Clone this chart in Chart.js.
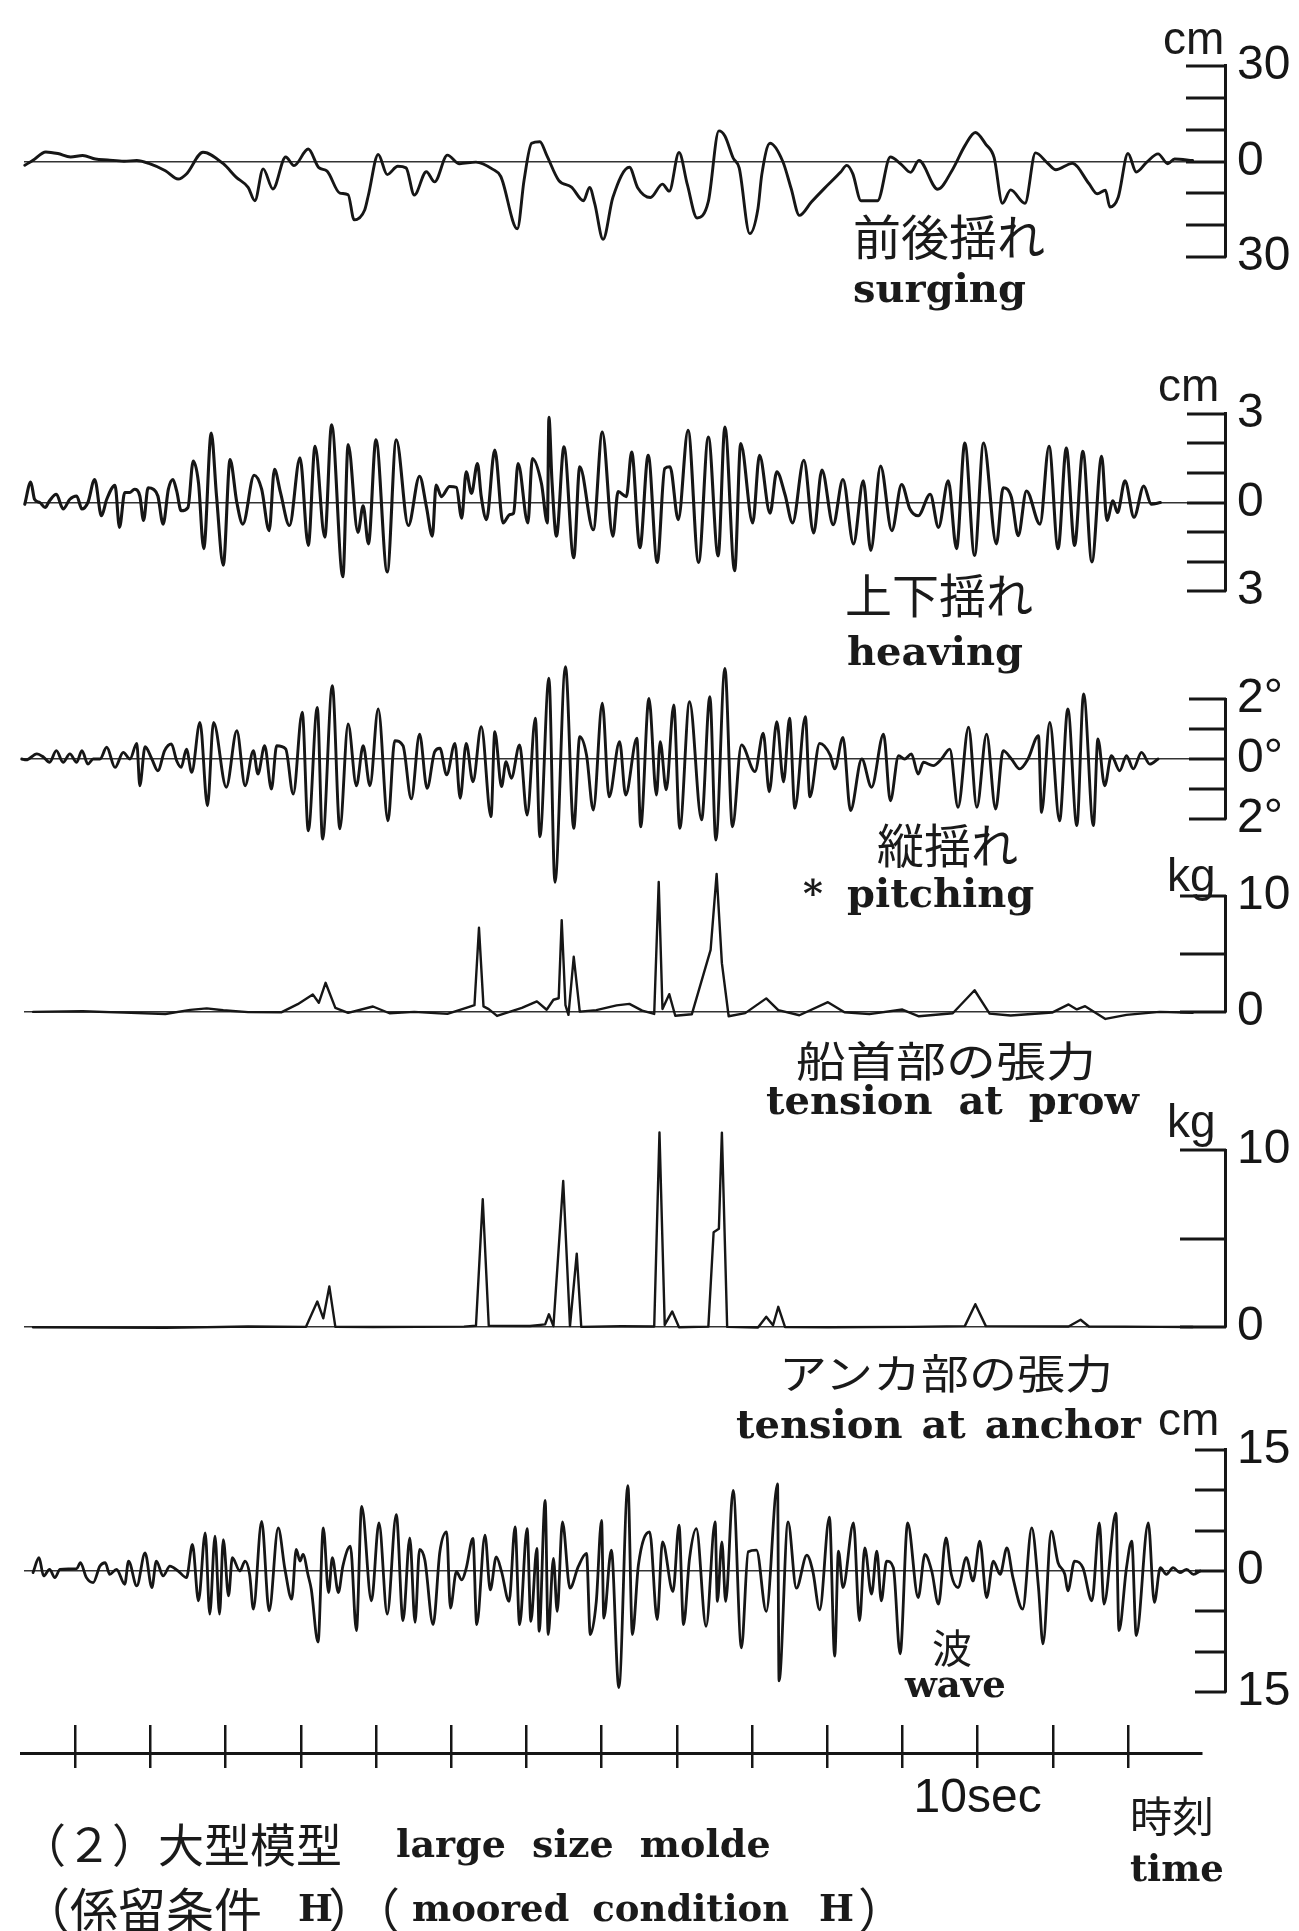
<!DOCTYPE html>
<html>
<head>
<meta charset="utf-8">
<script src="https://cdn.jsdelivr.net/npm/chart.js@4.4.1/dist/chart.umd.min.js"></script>
<style>
body{margin:0;background:#fff;}
#page{position:relative;width:1299px;height:1931px;overflow:hidden;background:#fff;}
#page canvas{position:absolute;left:0;}
.t{position:absolute;white-space:nowrap;line-height:1;color:#1a1a1a;transform-origin:0 0;}
.jp{font-family:'Noto Sans CJK JP','Noto Sans CJK SC',sans-serif;}
.en{font-family:'DejaVu Serif','Liberation Serif',serif;font-weight:bold;}
.u{font-family:'Liberation Sans',Arial,sans-serif;}
</style>
</head>
<body>
<div id="page">
<canvas id="surgeChart"></canvas>
<canvas id="heaveChart"></canvas>
<canvas id="pitchChart"></canvas>
<canvas id="prowChart"></canvas>
<canvas id="anchorChart"></canvas>
<canvas id="waveChart"></canvas>
<canvas id="timeChart"></canvas>

<div class="t u" style="left:1163px;top:15px;font-size:46px">cm</div>
<div class="t jp" style="left:853px;top:210px;font-size:48px">前後揺れ</div>
<div class="t en" style="left:853px;top:268px;font-size:40px">surging</div>

<div class="t u" style="left:1158px;top:362px;font-size:46px">cm</div>
<div class="t jp" style="left:845px;top:569px;font-size:47px">上下揺れ</div>
<div class="t en" style="left:847px;top:631px;font-size:40px">heaving</div>

<div class="t jp" style="left:877px;top:819px;font-size:47px">縦揺れ</div>
<div class="t en" style="left:803px;top:874px;font-size:38px">*</div>
<div class="t en" style="left:847px;top:873px;font-size:40px">pitching</div>

<div class="t u" style="left:1167px;top:852px;font-size:46px">kg</div>
<div class="t jp" style="left:796px;top:1037px;font-size:50px;transform:scaleY(0.85)">船首部の張力</div>
<div class="t en" style="left:766px;top:1080px;font-size:40px;word-spacing:12px">tension at prow</div>

<div class="t u" style="left:1167px;top:1098px;font-size:46px">kg</div>
<div class="t jp" style="left:779px;top:1351px;font-size:48px;transform:scaleY(0.85)">アンカ部の張力</div>
<div class="t en" style="left:736px;top:1404px;font-size:40px;word-spacing:5px">tension at anchor</div>

<div class="t u" style="left:1158px;top:1396px;font-size:46px">cm</div>
<div class="t jp" style="left:932px;top:1626px;font-size:40px">波</div>
<div class="t en" style="left:905px;top:1666px;font-size:37px">wave</div>

<div class="t jp" style="left:1130px;top:1793px;font-size:42px">時刻</div>
<div class="t en" style="left:1130px;top:1850px;font-size:37px">time</div>

<div class="t jp" style="left:20px;top:1819px;font-size:46px">（２）大型模型</div>
<div class="t en" style="left:396px;top:1825px;font-size:38px;word-spacing:13px">large size molde</div>
<div class="t jp" style="left:22px;top:1883px;font-size:48px">（係留条件</div>
<div class="t en" style="left:298px;top:1890px;font-size:37px">H</div>
<div class="t jp" style="left:328px;top:1883px;font-size:48px">）（</div>
<div class="t en" style="left:412px;top:1890px;font-size:37px;word-spacing:10px">moored condition</div>
<div class="t en" style="left:819px;top:1890px;font-size:37px">H</div>
<div class="t jp" style="left:858px;top:1883px;font-size:48px">）</div>
</div>

<script>
// time in seconds, values in cm / degrees / kg
const surging = [[-2.67,-1.2],[-2.56,0.4],[-2.39,3.0],[-2.23,2.5],[-2.06,1.4],[-1.90,1.9],[-1.73,0.8],[-1.57,0.5],[-1.35,0.1],[-1.18,0.3],[-1.02,-0.6],[-0.80,-2.9],[-0.63,-5.5],[-0.52,-3.9],[-0.30,2.9],[-0.03,-0.7],[0.14,-4.9],[0.30,-8.1],[0.39,-12.3],[0.50,-2.3],[0.63,-8.6],[0.80,1.4],[0.91,-1.3],[1.10,3.9],[1.24,-1.9],[1.35,-3.0],[1.52,-9.9],[1.63,-10.4],[1.71,-18.3],[1.85,-15.2],[1.90,-10.5],[2.03,2.2],[2.15,-4.1],[2.29,-1.5],[2.40,-2.0],[2.51,-10.5],[2.67,-3.2],[2.78,-6.4],[2.95,2.0],[3.11,-0.7],[3.33,-0.2],[3.55,-2.4],[3.66,-4.7],[3.88,-21.1],[3.97,-5.8],[4.07,5.7],[4.18,6.2],[4.27,2.0],[4.43,-5.9],[4.60,-8.0],[4.76,-12.3],[4.84,-8.1],[4.91,-13.3],[5.02,-24.4],[5.15,-11.3],[5.37,-1.8],[5.48,-8.2],[5.65,-11.3],[5.81,-7.1],[5.90,-9.3],[6.03,2.8],[6.14,-7.2],[6.27,-17.7],[6.42,-12.5],[6.56,9.6],[6.64,8.0],[6.75,1.1],[6.83,-2.0],[6.97,-22.6],[7.08,-14.7],[7.13,-4.2],[7.24,5.7],[7.41,0],[7.52,-8.4],[7.63,-16.9],[7.79,-12.7],[7.96,-8.5],[8.18,-3.3],[8.26,-1.2],[8.34,-3.8],[8.45,-12.3],[8.67,-12.3],[8.84,1.4],[8.98,-0.8],[9.11,-3.4],[9.22,0.3],[9.47,-8.7],[9.67,-2.4],[9.83,4.9],[9.97,9.1],[10.11,5.4],[10.22,1.2],[10.33,-13.1],[10.44,-8.9],[10.63,-13.1],[10.77,2.7],[10.93,-0.5],[11.04,-2.6],[11.26,-0.6],[11.48,-6.9],[11.59,-10.1],[11.70,-9.0],[11.76,-14.3],[11.87,-11.2],[12.00,2.5],[12.11,-3.3],[12.25,-0.2],[12.40,2.4],[12.53,-0.7],[12.62,0.8],[12.86,0.3]];

const heaving = [[-2.67,-0.06],[-2.59,0.69],[-2.54,0.11],[-2.47,0],[-2.40,-0.17],[-2.34,0.06],[-2.25,0.28],[-2.16,-0.22],[-2.07,0.11],[-1.98,0.22],[-1.91,-0.22],[-1.83,0],[-1.74,0.78],[-1.65,-0.45],[-1.58,0.11],[-1.47,0.58],[-1.41,-0.84],[-1.34,0.34],[-1.27,0.34],[-1.21,0.45],[-1.14,0.22],[-1.09,-0.61],[-1.03,0.50],[-0.96,0.45],[-0.90,0.22],[-0.83,-0.73],[-0.76,0.45],[-0.70,0.78],[-0.65,0.39],[-0.59,-0.28],[-0.50,-0.17],[-0.43,1.40],[-0.36,0.67],[-0.29,-1.56],[-0.19,2.35],[-0.12,0.22],[-0.03,-2.12],[0.06,1.45],[0.15,0],[0.23,-0.73],[0.38,0.92],[0.48,0.45],[0.58,-0.95],[0.65,1.12],[0.73,0.34],[0.85,-0.78],[0.99,1.51],[1.10,-1.45],[1.19,1.90],[1.32,-1.17],[1.41,2.63],[1.56,-2.51],[1.63,1.96],[1.76,-1.01],[1.83,-0.11],[1.90,-1.40],[2.00,2.12],[2.15,-2.35],[2.27,2.12],[2.43,-0.78],[2.58,0.89],
  [2.67,-0.13],[2.75,-1.14],[2.80,0.59],[2.87,0.20],[2.98,0.54],[3.07,0.51],[3.14,-0.53],[3.20,1.04],[3.27,0.31],[3.35,1.32],[3.40,0.20],[3.47,-0.58],[3.58,1.77],[3.69,-0.69],[3.78,-0.41],[3.83,-0.36],[3.89,1.32],[4.02,-0.69],[4.08,1.49],[4.20,0.65],[4.28,-0.69],[4.30,2.88],[4.34,0.76],[4.40,-1.14],[4.50,1.88],[4.63,-1.87],[4.71,1.21],[4.89,-0.92],[5.01,2.38],[5.15,-1.14],[5.22,0.37],[5.33,0.20],[5.40,1.71],[5.51,-1.53],[5.62,1.60],[5.74,-2.03],[5.84,1.15],[5.91,1.21],[6.02,-0.58],[6.15,2.44],[6.29,-2.03],[6.42,2.21],[6.55,-1.81],[6.64,2.55],[6.77,-2.31],[6.85,1.99],[7.01,-0.69],[7.10,1.60],[7.24,-0.36],[7.33,1.04],[7.44,0.26],[7.54,-0.69],[7.69,1.43],[7.82,-1.03],[7.93,1.10],[8.08,-0.75],
  [8.21,0.78],[8.35,-1.40],[8.48,0.73],[8.58,-1.62],[8.71,1.23],[8.86,-0.95],[8.99,0.61],[9.10,-0.22],[9.21,-0.45],[9.37,0.28],[9.48,-0.84],[9.61,0.73],[9.72,-1.56],[9.83,2.01],[9.96,-1.79],[10.08,2.01],[10.25,-1.40],[10.34,0.50],[10.45,0.17],[10.54,-1.12],[10.65,0.39],[10.83,-0.73],[10.95,1.90],[11.07,-1.56],[11.18,1.84],[11.29,-1.45],[11.40,1.73],[11.52,-2.01],[11.65,1.56],[11.72,-0.61],[11.80,0.06],[11.86,-0.34],[11.96,0.73],[12.08,-0.50],[12.21,0.56],[12.31,-0.06],[12.43,0]];

const pitching = [[-2.71,0],[-2.65,-0.03],[-2.51,0.17],[-2.42,0.06],[-2.34,-0.11],[-2.25,0.28],[-2.16,-0.11],[-2.07,0.17],[-1.98,-0.11],[-1.91,0.28],[-1.83,-0.17],[-1.76,0],[-1.67,0],[-1.58,0.39],[-1.47,-0.28],[-1.36,0.22],[-1.27,0],[-1.18,0.52],[-1.14,-0.89],[-1.07,0.41],[-0.98,0],[-0.90,-0.39],[-0.81,0.28],[-0.72,0.50],[-0.65,-0.06],[-0.59,-0.28],[-0.52,0.33],[-0.45,-0.44],[-0.34,1.22],[-0.24,-1.56],[-0.16,1.22],[0.01,-0.94],[0.15,0.94],[0.26,-0.89],[0.37,0.28],[0.43,-0.50],[0.52,0.44],[0.61,-1.0],[0.68,0.44],[0.80,0.33],[0.90,-1.17],[1.02,1.56],[1.10,-2.39],[1.22,1.72],[1.29,-2.67],[1.42,2.44],[1.52,-2.33],[1.63,1.17],[1.74,-0.89],[1.83,0.44],[1.92,-0.89],[2.03,1.67],[2.16,-2.06],[2.25,0.61],[2.36,0.44],[2.47,-1.33],[2.58,0.83],
  [2.68,-0.98],[2.78,0.24],[2.85,0.36],[2.94,-0.53],[3.05,0.52],[3.12,-1.31],[3.20,0.52],[3.29,-0.76],[3.40,1.08],[3.53,-1.92],[3.58,0.91],[3.67,-0.92],[3.73,-0.09],[3.80,-0.64],[3.91,0.47],[4.01,-1.87],[4.12,1.36],[4.18,-2.59],[4.30,2.69],[4.38,-4.11],[4.52,3.08],[4.63,-2.31],[4.71,0.74],[4.80,0.13],[4.89,-1.70],[5.01,1.86],[5.10,-1.26],[5.24,0.58],[5.32,-1.20],[5.47,0.69],[5.52,-2.26],[5.63,2.02],[5.73,-1.20],[5.78,0.58],[5.86,-1.03],[5.96,1.80],[6.04,-2.31],[6.17,1.91],[6.33,-2.03],[6.44,2.08],[6.52,-2.70],[6.64,3.02],[6.74,-2.26],[6.86,0.47],[7.04,-0.42],[7.15,0.86],[7.23,-1.09],[7.33,1.24],[7.42,-0.76],[7.50,1.36],[7.57,-1.64],[7.71,1.41],[7.77,-1.26],[7.90,0.52],[8.04,0.13],
  [8.10,-0.33],[8.21,0.72],[8.31,-1.72],[8.46,0],[8.59,-0.94],[8.75,0.83],[8.84,-1.39],[8.95,0.11],[9.03,0],[9.12,0.17],[9.21,-0.5],[9.28,-0.11],[9.41,-0.22],[9.52,0],[9.63,0.33],[9.74,-1.61],[9.88,1.06],[9.99,-1.61],[10.12,0.83],[10.24,-1.67],[10.34,0.28],[10.45,0],[10.56,-0.33],[10.67,0],[10.81,0.78],[10.85,-1.78],[10.96,1.22],[11.09,-2.06],[11.20,1.67],[11.32,-2.22],[11.41,2.17],[11.54,-2.22],[11.60,0.67],[11.69,-0.89],[11.78,0.11],[11.89,-0.39],[11.98,0.11],[12.07,-0.33],[12.18,0.22],[12.29,-0.17],[12.40,0]];

const prowTension = [[-2.56,0.03],[-1.90,0.08],[-1.35,-0.04],[-0.80,-0.15],[-0.47,0.20],[-0.25,0.33],[-0.03,0.17],[0.30,0.01],[0.74,-0.01],[0.96,0.69],[1.16,1.53],[1.24,0.81],[1.33,2.53],[1.46,0.37],[1.63,-0.06],[1.96,0.49],[2.18,-0.09],[2.51,0.03],[2.95,-0.14],[3.22,0.42],[3.31,0.6],[3.37,7.27],[3.43,0.5],[3.50,0.26],[3.61,-0.32],[3.94,0.37],[4.14,0.93],[4.27,0.21],[4.36,1.07],[4.43,1.2],[4.47,7.92],[4.52,0.6],[4.56,-0.23],[4.63,4.77],[4.71,0.05],[4.93,0.18],[5.20,0.59],[5.37,0.72],[5.54,0.14],[5.70,-0.15],[5.76,11.2],[5.81,0.27],[5.90,1.55],[5.98,-0.31],[6.20,-0.18],[6.45,5.37],[6.53,11.9],[6.60,4.22],[6.69,-0.35],[6.91,-0.08],[7.19,1.19],[7.35,0.18],[7.63,-0.26],[8.01,0.86],[8.23,-0.01],[8.56,-0.17],[9.00,0.23],[9.22,-0.35],[9.67,-0.09],[9.96,1.89],[10.16,-0.12],[10.44,-0.28],[10.99,-0.03],[11.21,0.67],[11.32,0.24],[11.43,0.52],[11.70,-0.58],[11.98,-0.23],[12.42,0.03],[12.86,-0.05]];

const anchorTension = [[-2.56,0],[-0.80,-0.04],[0.30,0.04],[1.07,0.02],[1.22,1.45],[1.30,0.50],[1.38,2.30],[1.46,0.02],[1.96,0.01],[3.17,0.03],[3.33,0.08],[3.42,7.22],[3.50,0.08],[4.05,0.07],[4.25,0.16],[4.30,0.73],[4.36,0.06],[4.49,8.25],[4.58,0.06],[4.67,4.15],[4.73,0.02],[5.26,0.05],[5.70,0.04],[5.77,10.99],[5.84,0.13],[5.94,0.89],[6.03,0],[6.42,0.03],[6.49,5.36],[6.56,5.55],[6.60,10.98],[6.67,0.02],[7.08,-0.02],[7.19,0.59],[7.28,0.11],[7.35,1.15],[7.44,0.01],[8.01,0],[9.11,0.02],[9.83,0.06],[9.97,1.30],[10.11,0.06],[11.21,0.04],[11.37,0.42],[11.48,0.04],[12.42,0.02],[12.86,0.01]];

const wave = [[-2.56,-0.2],[-2.48,1.64],[-2.42,-0.61],[-2.34,0.2],[-2.27,-0.82],[-2.20,0.2],[-1.98,0.29],[-1.93,1.02],[-1.85,-0.82],[-1.76,-1.43],[-1.67,0.61],[-1.60,1.02],[-1.54,-0.41],[-1.45,0.2],[-1.34,-1.64],[-1.29,1.23],[-1.18,-1.84],[-1.07,2.25],[-0.98,-2.05],[-0.92,1.23],[-0.83,-0.61],[-0.74,0.61],[-0.63,0],[-0.52,-0.82],[-0.44,3.28],[-0.36,-3.69],[-0.27,4.71],[-0.21,-5.33],[-0.14,4.30],[-0.08,-5.33],[-0.03,3.89],[0.04,-3.07],[0.09,1.64],[0.19,0],[0.26,1.23],[0.32,-0.41],[0.37,-4.71],[0.48,6.15],[0.58,-4.92],[0.70,5.33],[0.79,0.2],[0.88,-3.48],[0.94,2.66],[0.99,1.23],[1.03,2.05],[1.10,-0.61],[1.14,-2.25],[1.23,-8.81],[1.30,5.33],[1.37,-2.66],[1.42,1.64],[1.50,-2.66],[1.56,0.61],[1.66,3.07],[1.74,-7.38],[1.81,7.99],[1.94,-3.69],[2.04,5.94],[2.15,-5.33],[2.27,6.97],[2.36,-6.15],[2.45,4.10],[2.52,-6.35],[2.58,2.66],
  [2.65,1.35],[2.76,-6.64],[2.85,2.38],[2.94,4.84],[2.99,-4.59],[3.07,-0.08],[3.14,-1.11],[3.20,0.33],[3.29,4.02],[3.34,-6.64],[3.45,4.43],[3.52,-2.34],[3.60,1.76],[3.67,-0.08],[3.77,-3.77],[3.85,5.45],[3.91,-6.64],[4.01,5.25],[4.06,-6.23],[4.14,2.79],[4.17,-7.46],[4.25,8.73],[4.29,-7.87],[4.36,1.56],[4.41,-5.0],[4.48,6.07],[4.58,-2.13],[4.69,0.53],[4.80,2.17],[4.85,-7.87],[4.93,-3.77],[5.00,6.27],[5.03,-5.82],[5.13,2.58],[5.23,-14.43],[5.35,10.57],[5.41,-7.87],[5.49,0.74],[5.64,4.84],[5.74,-6.02],[5.81,3.61],[5.95,-2.54],[6.03,5.66],[6.09,-6.64],[6.17,1.56],[6.26,5.25],[6.39,-6.84],[6.51,6.07],[6.54,-3.77],[6.60,3.61],[6.65,-3.77],[6.75,9.96],[6.86,-9.51],[6.95,2.38],[7.06,2.58],[7.19,-5.0],[7.34,10.78],[7.36,-13.61],[7.48,6.07],[7.59,-2.13],[7.73,1.97],[7.81,-0.08],[7.90,-4.80],[8.03,6.68],[8.10,-10.53],
  [8.15,2.46],[8.21,-2.05],[8.35,5.94],[8.43,-6.15],[8.50,2.87],[8.59,-2.87],[8.66,2.46],[8.72,-3.69],[8.79,1.23],[8.88,0.41],[8.97,-10.25],[9.07,5.94],[9.21,-3.28],[9.30,2.05],[9.39,0],[9.48,-4.10],[9.58,4.10],[9.65,-0.41],[9.74,-2.05],[9.85,1.64],[9.94,-1.23],[10.03,3.69],[10.12,-3.28],[10.21,1.23],[10.30,-0.41],[10.39,2.87],[10.47,-0.82],[10.60,-4.71],[10.72,5.33],[10.81,-2.05],[10.87,-9.02],[10.98,4.92],[11.07,1.02],[11.16,-0.41],[11.20,-2.46],[11.29,1.23],[11.40,0.41],[11.52,-3.69],[11.62,5.94],[11.68,-4.10],[11.84,7.17],[11.88,-7.38],[11.98,0.41],[12.05,3.69],[12.11,-7.99],[12.27,5.94],[12.35,-3.89],[12.43,0.41],[12.51,-0.41],[12.60,0.41],[12.69,-0.20],[12.78,0.20],[12.87,-0.41],[12.96,0]];

// scale marks on the right-hand axes
const surgeTicks = [-30,-20,-10,0,10,20,30];
const heaveTicks = [-3,-2,-1,0,1,2,3];
const pitchTicks = [-2,-1,0,1,2];
const prowTicks = [0,5,10];
const anchorTicks = [0,5,10];
const waveTicks = [-15,-10,-5,0,5,10,15];
const timeTicks = [-2,-1,0,1,2,3,4,5,6,7,8,9,10,11,12];

const INK = '#161616';
const NUM_FONT = "'Liberation Sans', Arial, sans-serif";

// short tick marks pointing left from the axis line
const inwardTicks = {
  id: 'inwardTicks',
  afterDatasetsDraw(chart, args, opts) {
    const y = chart.scales.y;
    const ctx = chart.ctx;
    ctx.save();
    ctx.strokeStyle = INK;
    ctx.lineWidth = 3;
    y.ticks.forEach(t => {
      const py = Math.round(y.getPixelForValue(t.value));
      ctx.beginPath();
      ctx.moveTo(y.left - opts.len, py);
      ctx.lineTo(y.left + 1, py);
      ctx.stroke();
    });
    ctx.restore();
  }
};

function panel(id, cfg){
  const c = document.getElementById(id);
  c.width = 1299;
  c.height = cfg.padTop + cfg.span + cfg.padBottom;
  c.style.top = cfg.top + 'px';

  new Chart(c, {
    type: 'line',
    data: {
      datasets: [{
        data: cfg.series.map(p => ({x: p[0], y: p[1]})),
        borderColor: INK,
        borderWidth: cfg.width,
        borderJoinStyle: 'round',
        borderCapStyle: 'round',
        pointRadius: 0,
        fill: false,
        clip: false,
        tension: 0,
        cubicInterpolationMode: cfg.smooth ? 'monotone' : 'default'
      }]
    },
    options: {
      responsive: false,
      animation: false,
      events: [],
      layout: {padding: {left: 24, right: 0, top: cfg.padTop, bottom: cfg.padBottom}},
      plugins: {legend: {display: false}, tooltip: {enabled: false}, inwardTicks: {len: cfg.tickLen}},
      scales: {
        x: {type: 'linear', min: -2.68, max: 13.29, display: false},
        y: {
          type: 'linear',
          position: 'right',
          min: cfg.min,
          max: cfg.max,
          afterBuildTicks: s => { s.ticks = cfg.ticks.map(v => ({value: v})); },
          afterFit: s => { s.width = 74; },
          border: {display: true, color: INK, width: 3},
          grid: {
            drawTicks: false,
            lineWidth: 1.6,
            color: ctx => (ctx.tick && ctx.tick.value === 0) ? '#333' : 'rgba(0,0,0,0)'
          },
          ticks: {
            autoSkip: false,
            padding: 12,
            color: INK,
            font: {family: NUM_FONT, size: 48},
            callback: v => cfg.labelled.includes(v) ? Math.abs(v) + cfg.suffix : ''
          }
        }
      }
    },
    plugins: [inwardTicks]
  });
}

panel('surgeChart', {top: 25, span: 193, padTop: 40, padBottom: 40, series: surging,
  min: -30, max: 30, ticks: surgeTicks, labelled: [-30, 0, 30], suffix: '', tickLen: 39, width: 2.9, smooth: true});

panel('heaveChart', {top: 373, span: 179, padTop: 40, padBottom: 40, series: heaving,
  min: -3, max: 3, ticks: heaveTicks, labelled: [-3, 0, 3], suffix: '', tickLen: 38, width: 3.1, smooth: true});

panel('pitchChart', {top: 649, span: 120, padTop: 50, padBottom: 80, series: pitching,
  min: -2, max: 2, ticks: pitchTicks, labelled: [-2, 0, 2], suffix: '°', tickLen: 36, width: 2.9, smooth: true});

panel('prowChart', {top: 846, span: 117, padTop: 50, padBottom: 40, series: prowTension,
  min: 0, max: 10, ticks: prowTicks, labelled: [0, 10], suffix: '', tickLen: 45, width: 2.4, smooth: false});

panel('anchorChart', {top: 1100, span: 178, padTop: 50, padBottom: 40, series: anchorTension,
  min: 0, max: 10, ticks: anchorTicks, labelled: [0, 10], suffix: '', tickLen: 45, width: 2.4, smooth: false});

panel('waveChart', {top: 1409, span: 244, padTop: 40, padBottom: 40, series: wave,
  min: -15, max: 15, ticks: waveTicks, labelled: [-15, 0, 15], suffix: '', tickLen: 30, width: 2.8, smooth: true});

// time axis: one-second marks crossing the line
const tc = document.getElementById('timeChart');
tc.width = 1299;
tc.height = 138;
tc.style.top = '1715px';
new Chart(tc, {
  type: 'line',
  data: {datasets: []},
  options: {
    responsive: false,
    animation: false,
    events: [],
    layout: {padding: {left: 21, right: 98, top: 10, bottom: 0}},
    plugins: {legend: {display: false}, tooltip: {enabled: false}},
    scales: {
      x: {
        type: 'linear',
        min: -2.72,
        max: 12.97,
        position: 'bottom',
        afterBuildTicks: s => { s.ticks = timeTicks.map(v => ({value: v})); },
        afterFit: s => { s.height = 100; },
        border: {display: true, color: INK, width: 3},
        grid: {drawOnChartArea: true, drawTicks: true, tickLength: 15, color: INK, lineWidth: 2.5},
        ticks: {
          autoSkip: false,
          maxRotation: 0,
          padding: 2,
          color: INK,
          font: {family: NUM_FONT, size: 48},
          callback: v => v === 10 ? '10sec' : ''
        }
      },
      y: {display: false, min: 0, max: 1}
    }
  }
});
</script>
</body>
</html>
